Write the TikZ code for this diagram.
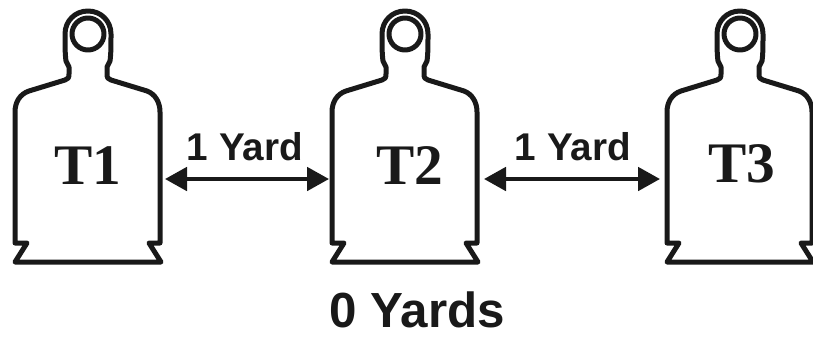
\documentclass[tikz,border=0pt]{standalone}
\usepackage{fontspec}
\setmainfont{Liberation Serif}
\setsansfont{Liberation Sans}
\usetikzlibrary{arrows.meta}

\tikzset{
  outline/.style={line width=3.75pt,line join=round,color=black!90},
  span/.style={line width=3pt,color=black!90,{Triangle[length=16.5pt,width=17.5pt]}-{Triangle[length=16.5pt,width=17.5pt]}},
  targetname/.style={anchor=base,inner sep=0.75pt,font=\fontsize{43}{43}\selectfont\bfseries,color=black!90},
  distname/.style={anchor=base,inner sep=0.75pt,font=\fontsize{29}{29}\selectfont\sffamily\bfseries,color=black!90},
  totalname/.style={anchor=base,inner sep=0.75pt,font=\fontsize{37}{37}\selectfont\sffamily\bfseries,color=black!90}
}

\begin{document}
\begin{tikzpicture}[x=0.75pt,y=0.75pt,yscale=-1,xscale=1]
\path [use as bounding box] (0,0) rectangle (813,337);

\foreach \offs in {0,317,652} {
%Shape: Silhouette
\draw [outline,shift={(\offs,0)}] (66,61) .. controls (65,54) and (65,45) .. (65,34) .. controls (65,21) and (75,11) .. (88,11) .. controls (101,11) and (111,21) .. (111,34) .. controls (111,45) and (111,54) .. (110,61) -- (107,67) -- (107,74) .. controls (107,78) and (108,79) .. (111,80) -- (147,91) .. controls (155,94) and (160,102) .. (160,112) -- (160,243) -- (149,243) -- (161,262) -- (15,262) -- (27,243) -- (15,243) -- (15,112) .. controls (15,102) and (20,94) .. (29,91) -- (65,80) .. controls (68,79) and (69,78) .. (69,74) -- (69,67) -- cycle ;
%Shape: Circle
\draw [outline,shift={(\offs,0)}] (88,34) circle [radius=16] ;
}

% Text Node
\node [targetname] (t1) at (88,184) {T1};
% Text Node
\node [targetname] (t2) at (409.5,184) {T2};
% Text Node
\node [targetname] (t3) at (741.5,182) {T3};
% Text Node
\node [distname] (d1) at (245,160.5) {1 Yard};
% Text Node
\node [distname] (d2) at (573,160.5) {1 Yard};
% Text Node
\node [totalname] (total) at (417,327.5) {0 Yards};

\coordinate (a1) at (165,179);
\coordinate (b1) at (329,179);
\coordinate (a2) at (484,179);
\coordinate (b2) at (660,179);

%Straight Lines
\draw [span] (a1) -- (b1) ;
%Straight Lines
\draw [span] (a2) -- (b2) ;
\end{tikzpicture}
\end{document}
